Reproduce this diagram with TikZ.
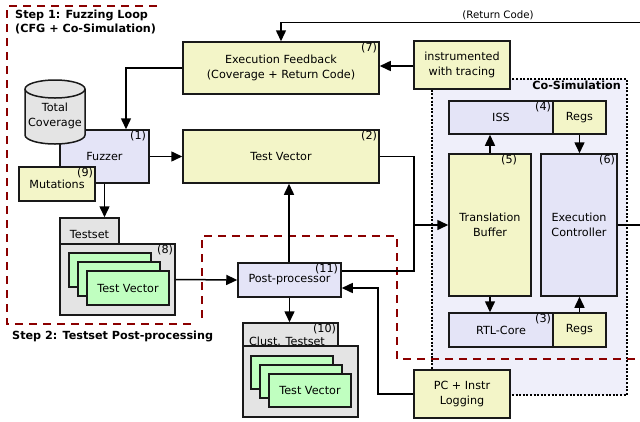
\documentclass[tikz,border=0pt]{standalone}
\usepackage{fontspec}
\setmainfont{DejaVu Sans}
\usetikzlibrary{arrows.meta,calc}
\definecolor{yel}{RGB}{243,245,200}
\definecolor{lav}{RGB}{228,228,247}
\definecolor{gry}{RGB}{228,228,228}
\definecolor{grn}{RGB}{192,255,192}
\definecolor{cosim}{RGB}{239,239,250}
\definecolor{dred}{RGB}{139,0,0}
\tikzset{
  box/.style={draw=black!90, line width=1.5pt, inner sep=1pt, align=center},
  yb/.style={box, fill=yel},
  lb/.style={box, fill=lav},
  gb/.style={box, fill=gry},
  cb/.style={box, fill=grn},
  arr/.style={line width=1.5pt, -{Triangle[length=11pt,width=10pt]}},
  ln/.style={line width=1.5pt},
  numlab/.style={anchor=north east, inner sep=0.5pt},
  stepline/.style={draw=dred, line width=2.4pt, dash pattern=on 8pt off 6pt},
}
\begin{document}
\begin{tikzpicture}[x=1pt,y=-1pt,font=\fontsize{11.2}{14.5}\selectfont]
\useasboundingbox (0,0) rectangle (640,421);
% Co-simulation region
\path[fill=cosim, draw=black, line width=1.4pt, dash pattern=on 2pt off 1.6pt] (432,79) rectangle (627,395);
\node[anchor=east, font=\fontsize{11.2}{14.5}\selectfont\bfseries, inner sep=0pt] (cosimlab) at (621,85) {Co-Simulation};
% Step regions
\draw[stepline] (157,6) -- (7,6) -- (7,324) -- (195,324);
\draw[stepline] (202,318) -- (202,236) -- (397,236) -- (397,359) -- (640,359);
\node[anchor=north west, align=left, font=\fontsize{11.2}{14}\selectfont\bfseries, inner sep=0pt] (s1) at (15,10) {Step 1: Fuzzing Loop\\(CFG + Co-Simulation)};
\node[anchor=west, font=\fontsize{11.2}{14}\selectfont\bfseries, inner sep=0pt] (s2) at (12,336) {Step 2: Testset Post-processing};
% Boxes
\node[yb, minimum width=196pt, minimum height=52pt] (fb) at (281,68) {Execution Feedback\\(Coverage + Return Code)};
\node[yb, minimum width=196pt, minimum height=53pt] (tv) at (281,156.5) {Test Vector};
\node[lb, minimum width=89pt, minimum height=53pt] (fz) at (104.5,156.5) {Fuzzer};
\node[yb, minimum width=76pt, minimum height=34pt] (mut) at (57,184) {Mutations};
\node[yb, minimum width=96pt, minimum height=48pt] (instr) at (462,65) {instrumented\\with tracing};
\node[lb, minimum width=103pt, minimum height=34pt] (pp) at (289.5,280) {Post-processor};
\node[yb, minimum width=96pt, minimum height=48pt] (pc) at (462,394) {PC + Instr\\Logging};
\node[lb, minimum width=104pt, minimum height=33pt] (iss) at (501,117.5) {ISS};
\node[yb, minimum width=53pt, minimum height=33pt] (rg1) at (579.5,117.5) {Regs};
\node[yb, minimum width=82pt, minimum height=142pt] (tb) at (490,225) {Translation\\Buffer};
\node[lb, minimum width=76pt, minimum height=142pt] (ec) at (579,225) {Execution\\Controller};
\node[lb, minimum width=104pt, minimum height=34pt] (rtl) at (501,330) {RTL-Core};
\node[yb, minimum width=53pt, minimum height=34pt] (rg2) at (579.5,330) {Regs};
% Testset
\node[gb, minimum width=59pt, minimum height=26pt] (tab) at (89.5,231) {};
\node[inner sep=0pt] (tabt) at (89.5,234) {Testset};
\node[gb, minimum width=115pt, minimum height=71pt] (tsb) at (117.5,279.5) {};
\node[cb, minimum width=82pt, minimum height=34pt] (c1) at (110,270) {};
\node[cb, minimum width=82pt, minimum height=34pt] (c2) at (119,279) {};
\node[cb, minimum width=82pt, minimum height=34pt] (c3) at (128,288) {Test Vector};
% Clustered testset
\node[gb, minimum width=95pt, minimum height=23pt] (ctab) at (290.5,334.5) {};
\node[inner sep=0pt] (ctabt) at (287,341) {Clust. Testset};
\node[gb, minimum width=115pt, minimum height=71pt] (ctb) at (300.5,381.5) {};
\node[cb, minimum width=82pt, minimum height=33pt] (d1) at (292,372.5) {};
\node[cb, minimum width=82pt, minimum height=33pt] (d2) at (301,381.5) {};
\node[cb, minimum width=82pt, minimum height=33pt] (d3) at (310,390.5) {Test Vector};
% Total coverage cylinder
\path[fill=gry, draw=black!90, line width=1.5pt] (25,89) -- (25,135) arc[start angle=180, end angle=0, x radius=30, y radius=9] -- (85,89) arc[start angle=0, end angle=-180, x radius=30, y radius=9] -- cycle;
\draw[line width=1.5pt, draw=black!90] (25,89) arc[start angle=180, end angle=0, x radius=30, y radius=9];
\node[align=center, inner sep=0pt] (tc) at (55,116) {Total\\Coverage};
% number labels
\node[numlab] (l7) at ([xshift=-2pt,yshift=-1pt]fb.north east) {(7)};
\node[numlab] (l2) at ([xshift=-2pt,yshift=-1pt]tv.north east) {(2)};
\node[numlab] (l1) at ([xshift=-3pt,yshift=-1pt]fz.north east) {(1)};
\node[numlab] (l9) at ([xshift=-2pt,yshift=-1pt]mut.north east) {(9)};
\node[numlab] (l8) at ([xshift=-2pt,yshift=-1pt]tsb.north east) {(8)};
\node[numlab] (l11) at ([xshift=-3pt,yshift=-1pt]pp.north east) {(11)};
\node[numlab] (l10) at ([xshift=-2pt,yshift=-1pt]ctab.north east) {(10)};
\node[numlab] (l4) at ([xshift=-2pt,yshift=-1pt]iss.north east) {(4)};
\node[numlab] (l3) at ([xshift=-2pt,yshift=-1pt]rtl.north east) {(3)};
\node[numlab] (l5) at ([xshift=-14pt,yshift=-1pt]tb.north east) {(5)};
\node[numlab] (l6) at ([xshift=-2pt,yshift=-1pt]ec.north east) {(6)};
% connectors
\coordinate (rc) at (640,22.5);
\coordinate (j) at (414,225);
\coordinate (k) at (378,288);
\coordinate (out) at (640,225);
\draw[arr] (rc) -| (fb.north);
\node[font=\fontsize{10.2}{12}\selectfont, inner sep=0pt] (rclab) at (498,15) {(Return Code)};
\draw[arr] (fb.west) -| ([xshift=21.5pt]fz.north);
\draw[arr] (fz.east) -- (tv.west);
\draw[arr] (fz.south) -- (fz.south |- tab.north);
\draw[arr] (tsb.east) -- (pp.west);
\draw[arr] ([xshift=-0.5pt]pp.north) -- ([xshift=-0.5pt]pp.north |- tv.south);
\draw[arr] (pp.south) -- (pp.south |- ctab.north);
\draw[ln] (tv.east) -| (j);
\draw[ln] ([yshift=9pt]pp.east) -| (j);
\draw[arr] (j) -- (tb.west);
\draw[arr] (pc.west) -| (k) -- (k -| pp.east);
\draw[arr] ([yshift=-1pt]instr.west) -- ([yshift=-1pt]instr.west -| fb.east);
\draw[arr] (tb.north) -- (tb.north |- iss.south);
\draw[arr] (rg1.south) -- (rg1.south |- ec.north);
\draw[arr] (tb.south) -- (tb.south |- rtl.north);
\draw[arr] (rg2.north) -- (rg2.north |- ec.south);
\draw[ln] (ec.east) -- (out);
\end{tikzpicture}
\end{document}
